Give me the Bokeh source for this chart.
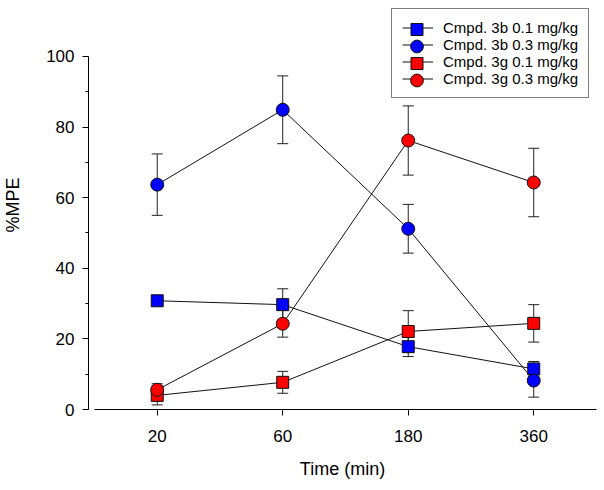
from bokeh.plotting import figure
from bokeh.models import (ColumnDataSource, Whisker, TeeHead, Range1d, FixedTicker,
                          Legend, LegendItem)
from bokeh.embed import file_html
from bokeh.resources import INLINE

# ---- data ----
times = ["20", "60", "180", "360"]
xpos = [0, 1, 2, 3]

b01 = [30.8, 29.7, 17.8, 11.5]
b01_err = [1.0, 4.5, 2.8, 2.1]
b03 = [63.7, 84.9, 51.2, 8.2]
b03_err = [8.7, 9.6, 6.9, 4.7]
g01 = [4.0, 7.7, 22.1, 24.4]
g01_err = [2.7, 3.1, 5.9, 5.3]
g03 = [5.6, 24.3, 76.2, 64.3]
g03_err = [1.7, 3.8, 9.8, 9.7]

labels = ["Cmpd. 3b 0.1 mg/kg", "Cmpd. 3b 0.3 mg/kg",
          "Cmpd. 3g 0.1 mg/kg", "Cmpd. 3g 0.3 mg/kg"]
FONT = "Liberation Sans"

p = figure(width=604, height=490, output_backend="svg", toolbar_location=None,
           x_range=Range1d(-0.5476, 3.5), y_range=Range1d(0, 115.86),
           min_border_left=86, min_border_right=8, min_border_top=0,
           min_border_bottom=81)
p.outline_line_color = None
p.grid.visible = False
p.background_fill_color = "white"
p.border_fill_color = "white"

series = [
    (b01, b01_err, "square", 12, "#0000FF", labels[0]),
    (b03, b03_err, "circle", 13, "#0000FF", labels[1]),
    (g01, g01_err, "square", 12, "#FF0000", labels[2]),
    (g03, g03_err, "circle", 13, "#FF0000", labels[3]),
]

line_rs = []
mark_rs = []
for ys, errs, marker, size, color, lab in series:
    src = ColumnDataSource(dict(
        x=xpos, y=ys,
        upper=[v + e for v, e in zip(ys, errs)],
        lower=[v - e for v, e in zip(ys, errs)],
    ))
    lr = p.line("x", "y", source=src, line_color="#111111", line_width=1)
    w = Whisker(source=src, base="x", upper="upper", lower="lower",
                line_color="#222222", line_width=1,
                upper_head=TeeHead(size=11, line_color="#222222", line_width=1),
                lower_head=TeeHead(size=11, line_color="#222222", line_width=1),
                level="underlay")
    p.add_layout(w)
    mr = p.scatter("x", "y", source=src, marker=marker, size=size, fill_color=color,
                   line_color="#111111", line_width=1)
    line_rs.append(lr)
    mark_rs.append(mr)

# x axis
xa = p.xaxis[0]
xa.ticker = FixedTicker(ticks=xpos)
xa.major_label_overrides = {i: t for i, t in zip(xpos, times)}
xa.bounds = (-0.5, 3.5)
xa.major_tick_in = 0
xa.major_tick_out = 6
xa.axis_label = "Time (min)"
xa.major_label_standoff = 14
xa.axis_label_standoff = 14

# y axis
ya = p.yaxis[0]
ya.ticker = FixedTicker(ticks=[0, 20, 40, 60, 80, 100],
                        minor_ticks=[10, 30, 50, 70, 90])
ya.bounds = (0, 100)
ya.major_tick_in = 0
ya.major_tick_out = 6
ya.minor_tick_in = 0
ya.minor_tick_out = 3
ya.axis_label = "%MPE"
ya.major_label_standoff = 8
ya.axis_label_standoff = 20

for ax in (xa, ya):
    ax.axis_line_color = "black"
    ax.major_tick_line_color = "black"
    ax.major_label_text_font = FONT
    ax.axis_label_text_font = FONT
    ax.major_label_text_font_size = "17px"
    ax.axis_label_text_font_size = "18px"
    ax.axis_label_text_font_style = "normal"
    ax.major_label_text_color = "black"
    ax.axis_label_text_color = "black"
xa.minor_tick_line_color = None
ya.minor_tick_line_color = "black"

# main legend: box, lines and texts
main = Legend(items=[LegendItem(label=lab, renderers=[lr])
                     for lab, lr in zip(labels, line_rs)],
              location=(303, 311),
              border_line_color="black", border_line_width=1,
              background_fill_color="white", background_fill_alpha=1,
              label_text_font=FONT, label_text_font_size="15px",
              label_text_color="black",
              glyph_width=31, glyph_height=17, label_height=17,
              spacing=0, padding=10, label_standoff=10, margin=0)
p.add_layout(main)

# legend keys with full-size markers, one small transparent legend per row
row_centers = [28.5, 45.5, 62.5, 79.5]   # rows of the main legend, px from top
for (ys, errs, marker, size, color, lab), mr, rc in zip(series, mark_rs, row_centers):
    gh = 30 if marker == "square" else 32
    key = Legend(items=[LegendItem(label=" ", renderers=[mr])],
                 location=(311, 409 - rc - gh / 2),
                 border_line_color=None, background_fill_alpha=0,
                 label_text_font_size="1px", label_text_alpha=0,
                 glyph_width=35, glyph_height=gh, label_height=1, label_width=1,
                 spacing=0, padding=0, label_standoff=0, margin=0)
    p.add_layout(key)

open("out.html", "w").write(file_html(p, INLINE))
